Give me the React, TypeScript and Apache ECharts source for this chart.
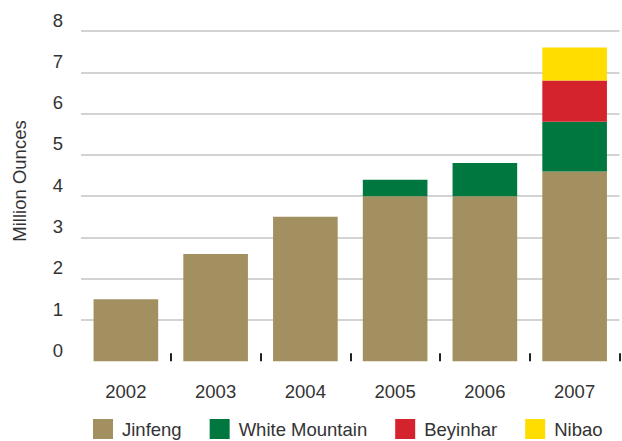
import React, { useEffect, useRef } from "react";
import * as echarts from "echarts";

const years = ["2002", "2003", "2004", "2005", "2006", "2007"];
const jinfeng = [1.5, 2.6, 3.5, 4.0, 4.0, 4.6];
const whiteMountain = [0, 0, 0, 0.4, 0.8, 1.2];
const beyinhar = [0, 0, 0, 0, 0, 1.0];
const nibao = [0, 0, 0, 0, 0, 0.8];

const seriesNames = ["Jinfeng", "White Mountain", "Beyinhar", "Nibao"];
const seriesColors = ["#A39060", "#00773E", "#D4232C", "#FFDD00"];
const seriesData = [jinfeng, whiteMountain, beyinhar, nibao];

export default function App() {
  const ref = useRef<HTMLDivElement>(null);
  useEffect(() => {
    if (!ref.current) return;
    const chart = echarts.init(ref.current, undefined, { renderer: "svg" });
    const font = "Liberation Sans, Arial, sans-serif";
    chart.setOption({
      animation: false,
      textStyle: { fontFamily: font },
      grid: { left: 81, right: 2.5, top: 31, bottom: 79.7, containLabel: false },
      graphic: [
        {
          type: "text",
          x: 19,
          y: 181,
          rotation: Math.PI / 2,
          style: {
            text: "Million Ounces",
            fontSize: 18.5,
            fontFamily: font,
            fill: "#333",
            align: "center",
            verticalAlign: "middle",
          },
        },
      ],
      legend: {
        left: 93,
        top: 419,
        padding: 0,
        itemWidth: 20,
        itemHeight: 20,
        itemGap: 28,
        icon: "rect",
        data: seriesNames,
        textStyle: { fontSize: 18.5, color: "#333", fontFamily: font, padding: [0, 0, 0, 4] },
      },
      xAxis: {
        type: "category",
        data: years,
        axisLine: { show: false },
        axisTick: {
          show: true,
          inside: true,
          length: 8,
          lineStyle: { color: "#222", width: 2 },
          interval: (i: number) => i !== 0,
        },
        axisLabel: { fontSize: 18.5, color: "#333", margin: 21, fontFamily: font },
      },
      yAxis: {
        type: "value",
        min: 0,
        max: 8,
        interval: 1,
        axisLine: { show: false },
        axisTick: { show: false },
        splitLine: { show: true, showMinLine: false, lineStyle: { color: "#C4C4C4", width: 1.5 } },
        axisLabel: {
          fontSize: 18.5,
          color: "#333",
          margin: 18,
          verticalAlign: "bottom",
          lineHeight: 18,
          padding: [0, 0, 2, 0],
          fontFamily: font,
        },
      },
      series: seriesNames.map((name, k) => ({
        name,
        type: "bar",
        stack: "total",
        barWidth: "72%",
        data: seriesData[k],
        itemStyle: { color: seriesColors[k] },
      })),
    });
    return () => chart.dispose();
  }, []);
  return (
    <div
      ref={ref}
      style={{ position: "fixed", left: 0, top: 0, width: 622, height: 441, background: "#fff" }}
    />
  );
}
